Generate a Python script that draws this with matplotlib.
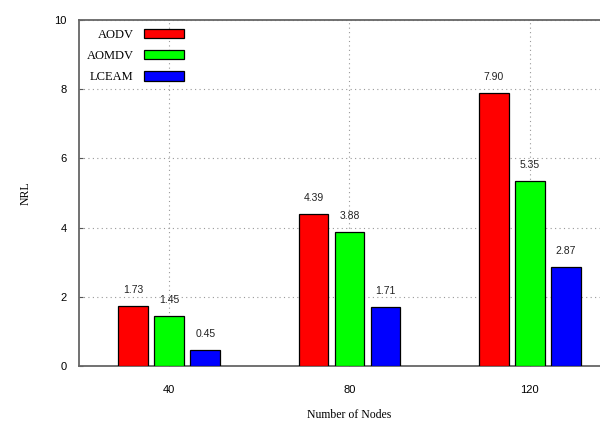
import matplotlib
matplotlib.use("Agg")
import matplotlib.pyplot as plt
import numpy as np

nodes = ["40", "80", "120"]
aodv = [1.73, 4.39, 7.90]
aomdv = [1.45, 3.88, 5.35]
lceam = [0.45, 1.71, 2.87]

series = [("AODV", aodv, "#ff0000"),
          ("AOMDV", aomdv, "#00ff00"),
          ("LCEAM", lceam, "#0000ff")]

BAR_WIDTH = 0.165
STEP = 0.2
SERIF = "Liberation Serif"
SANS = "Liberation Sans"

fig = plt.figure(figsize=(6.0, 4.25), dpi=100)
# the plot box runs past the right edge of the figure
ax = fig.add_axes([79 / 600, 59 / 425, 541 / 600, 346 / 425])

x = np.arange(1, len(nodes) + 1)
for i, (name, vals, col) in enumerate(series):
    bars = ax.bar(x + (i - 1) * STEP, vals, width=BAR_WIDTH, color=col,
                  edgecolor="black", linewidth=0.9, label=name, zorder=3)
    ax.bar_label(bars, labels=["%.2f" % v for v in vals], padding=8,
                 fontsize=7.5, family=SANS, color="#222222")

ax.set_xlim(0.5, 3.5)
ax.set_ylim(0, 10)
ax.set_xticks(x)
ax.set_xticklabels(nodes, fontsize=8, family=SANS)
ax.set_yticks(range(0, 11, 2))
ax.set_yticklabels([str(v) for v in range(0, 11, 2)], fontsize=8, family=SANS)
ax.tick_params(direction="in", length=3, width=0.8, color="#555555")
ax.tick_params(axis="x", pad=14)
ax.tick_params(axis="y", pad=9)

ax.grid(True, linestyle=(0, (1, 3)), color="#999999", linewidth=0.8, zorder=0)
for s in ax.spines.values():
    s.set_color("#666666")
    s.set_linewidth(1.3)

ax.set_xlabel("Number of Nodes", fontsize=8.5, family=SERIF, labelpad=10)
ax.set_ylabel("NRL", fontsize=8.5, family=SERIF, labelpad=16)

ax.legend(loc="upper left", bbox_to_anchor=(-0.002, 1.0), frameon=False,
          markerfirst=False, prop={"family": SERIF, "size": 9},
          handlelength=3.2, handleheight=0.8, labelspacing=0.72,
          handletextpad=0.8, borderaxespad=0.3)

fig.savefig("out.png", dpi=100)
